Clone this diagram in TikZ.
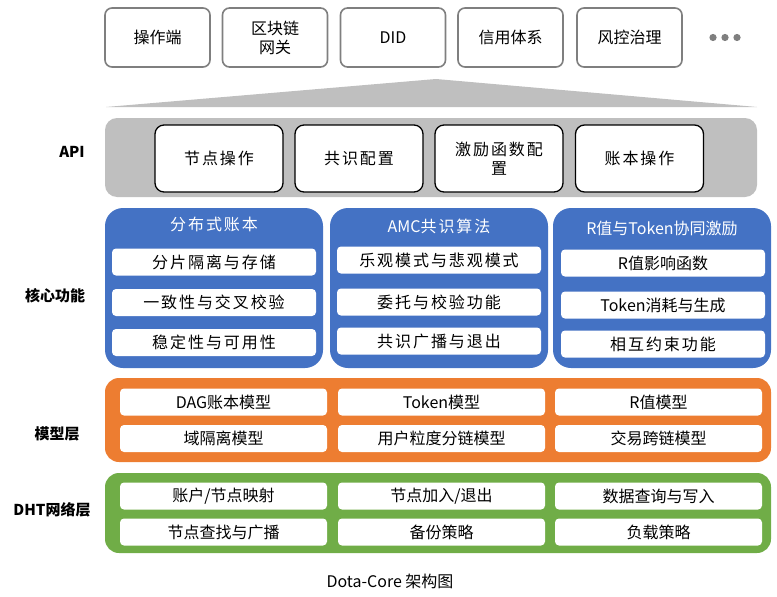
\documentclass[tikz,border=0pt]{standalone}
\usepackage{fontspec}
\setmainfont{Noto Sans CJK SC}
\newfontfamily\spacedcjk[LetterSpace=12]{Noto Sans CJK SC}
\usetikzlibrary{positioning}
\definecolor{cgray}{HTML}{BFBFBF}
\definecolor{cedge}{HTML}{7F7F7F}
\definecolor{cblue}{HTML}{4472C4}
\definecolor{corange}{HTML}{ED7D31}
\definecolor{cgreen}{HTML}{70AD47}
\tikzset{
  topbox/.style={draw=cedge, line width=1.6pt, rounded corners=7pt, fill=white, inner sep=0pt, align=center, font=\fontsize{16}{19}\selectfont, minimum width=105pt, minimum height=59pt},
  apibox/.style={draw=black, line width=1.3pt, rounded corners=9pt, fill=white, inner sep=0pt, align=center, font=\spacedcjk\fontsize{16}{19}\selectfont, minimum width=128pt, minimum height=67pt, text width=116pt},
  cell/.style={fill=white, rounded corners=4pt, inner sep=0pt, font=\fontsize{16}{19}\selectfont, minimum height=27pt},
  corecell/.style={cell, font=\spacedcjk\fontsize{16}{19}\selectfont, minimum width=204pt},
  sidelabel/.style={font=\fontsize{15}{18}\selectfont\bfseries, anchor=center},
  head/.style={text=white, font=\spacedcjk\fontsize{16}{19}\selectfont}
}
\begin{document}
\begin{tikzpicture}[x=1pt,y=-1pt]
\useasboundingbox (0,0) rectangle (777,597);
% top applications
\node[topbox] (t1) at (157.5,37.5) {操作端};
\node[topbox] (t2) at (275,37.5) {区块链\\网关};
\node[topbox] (t3) at (393,37.5) {DID};
\node[topbox] (t4) at (510.5,37.5) {信用体系};
\node[topbox] (t5) at (629.5,37.5) {风控治理};
\foreach \xx in {713,725,737}{\fill[cedge] (\xx,37.5) circle (3.6pt);}
\coordinate (dots) at (725,37.5);
% wedge
\fill[cgray] (106,107) -- (436,79) -- (757,107) -- cycle;
% API
\node[sidelabel] (lapi) at (72,152) {API};
\fill[cgray, rounded corners=12pt] (105,118) rectangle (757,197);
\node[apibox] (a1) at (219,158.5) {节点操作};
\node[apibox] (a2) at (359,158.5) {共识配置};
\node[apibox] (a3) at (499,158.5) {激励函数配\\置};
\node[apibox] (a4) at (639.5,158.5) {账本操作};
% core
\node[sidelabel] (lcore) at (55,296) {核心功能};
\fill[cblue, rounded corners=18pt] (105,208) rectangle (323,368);
\fill[cblue, rounded corners=18pt] (330,208) rectangle (548,368);
\fill[cblue, rounded corners=18pt] (553,208) rectangle (771,368);
\node[head] (h1) at (214,224) {分布式账本};
\node[head] (h2) at (439,226) {{\rmfamily AMC}共识算法};
\node[head, font=\fontsize{16}{19}\selectfont] (h3) at (662,228) {R值与Token协同激励};
\node[corecell] (c11) at (214,262) {分片隔离与存储};
\node[corecell] (c12) at (214,302.5) {一致性与交叉校验};
\node[corecell] (c13) at (214,342.5) {稳定性与可用性};
\node[corecell] (c21) at (439,260) {乐观模式与悲观模式};
\node[corecell] (c22) at (439,302) {委托与校验功能};
\node[corecell] (c23) at (439,341) {共识广播与退出};
\node[corecell, font=\fontsize{16}{19}\selectfont] (c31) at (663,263) {R值影响函数};
\node[corecell, font=\fontsize{16}{19}\selectfont] (c32) at (663,305) {Token消耗与生成};
\node[corecell] (c33) at (663,344) {相互约束功能};
% model layer
\node[sidelabel] (lmodel) at (57,434) {模型层};
\fill[corange, rounded corners=14pt] (105,378) rectangle (771,462);
\foreach \nm/\cx/\cy/\txt in {
  m11/223.5/402/{DAG账本模型}, m12/441.5/402/{Token模型}, m13/658.5/402/{R值模型},
  m21/223.5/438.5/{域隔离模型}, m22/441.5/438.5/{用户粒度分链模型}, m23/658.5/438.5/{交易跨链模型}}{
  \node[cell, minimum width=207pt] (\nm) at (\cx,\cy) {\txt};
}
% DHT layer
\node[sidelabel] (ldht) at (52,510) {DHT网络层};
\fill[cgreen, rounded corners=14pt] (105,473) rectangle (771,553);
\foreach \nm/\cx/\cy/\txt in {
  d11/223.5/496/{账户/节点映射}, d12/441.5/496/{节点加入/退出}, d13/658.5/496/{数据查询与写入},
  d21/223.5/532/{节点查找与广播}, d22/441.5/532/{备份策略}, d23/658.5/532/{负载策略}}{
  \node[cell, minimum width=207pt] (\nm) at (\cx,\cy) {\txt};
}
% caption
\node[font=\fontsize{16}{19}\selectfont] (cap) at (390,581) {Dota-Core 架构图};
\end{tikzpicture}
\end{document}
